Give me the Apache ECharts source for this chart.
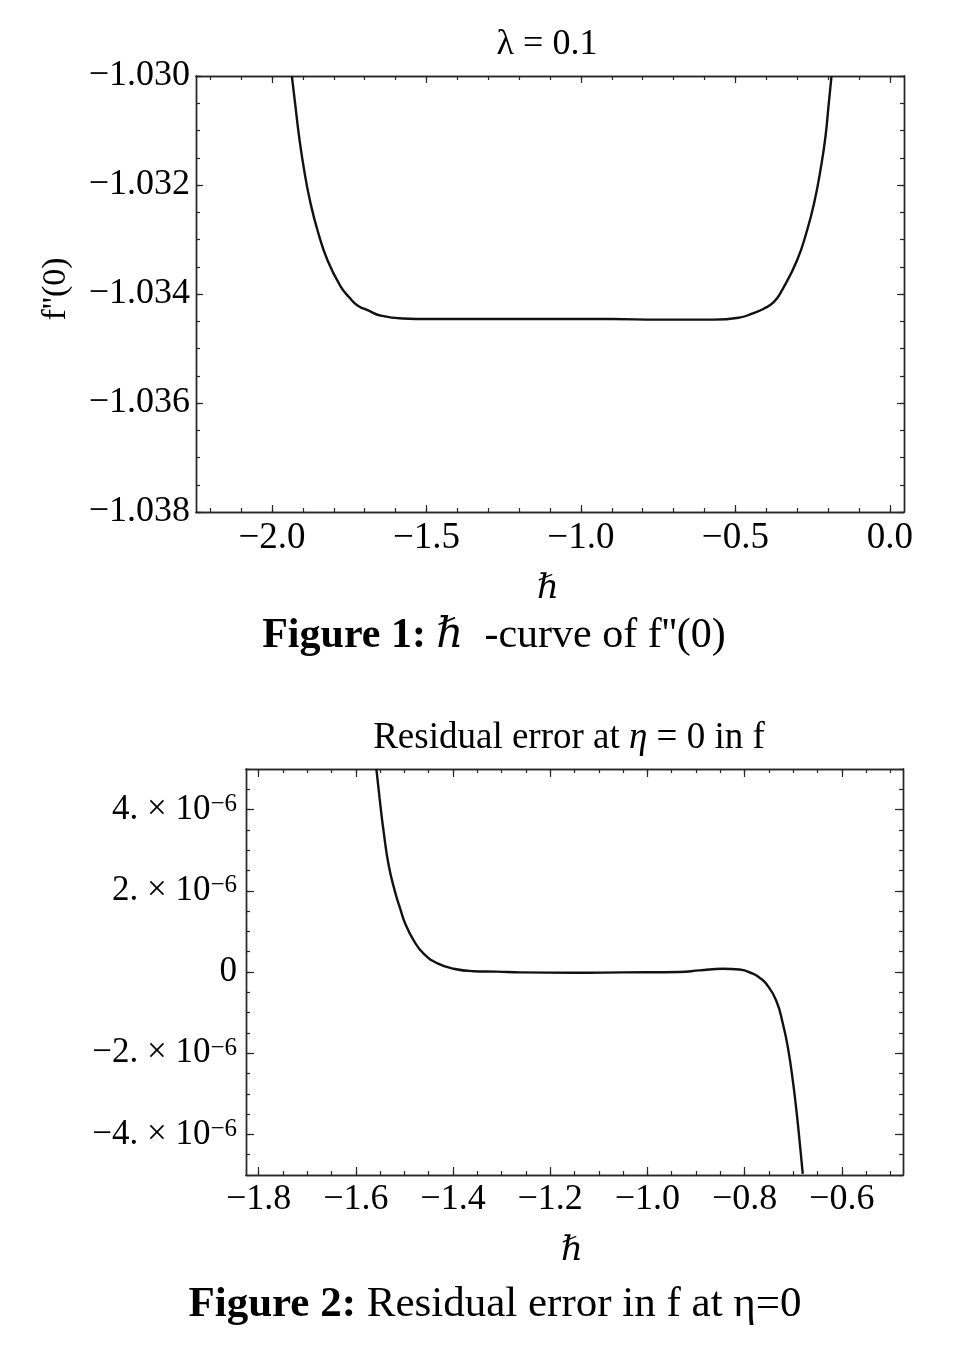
<!DOCTYPE html>
<html>
<head>
  <meta charset="UTF-8">
  <title>ħ-curve and residual error</title>
  <script src="https://cdn.jsdelivr.net/npm/echarts@6.0.0/dist/echarts.min.js"></script>
  <style>
    html, body { margin: 0; padding: 0; background: #fff; }
    #chart { width: 957px; height: 1354px; }
  </style>
</head>
<body>
  <div id="chart"></div>

  <script>
    // Figure 1: f''(0) against hbar, lambda = 0.1
    const hbar1 = [-1.9357, -1.925, -1.912, -1.8958, -1.8773, -1.8527, -1.8203, -1.7769, -1.75,
      -1.7231, -1.685, -1.6528, -1.5773, -1.49, -1.3, -1.1, -0.9, -0.75, -0.6782, -0.5703,
      -0.4838, -0.4459, -0.4083, -0.3759, -0.3487, -0.3001, -0.2677, -0.243, -0.2246, -0.2084, -0.1977, -0.1889];
    const fpp0 = [-1.0300, -1.03051, -1.03112, -1.03173, -1.03228, -1.03283, -1.03338, -1.03387, -1.03406,
      -1.03421, -1.03431, -1.03439, -1.03445, -1.03446, -1.03446, -1.03446, -1.03446, -1.03447, -1.03447, -1.03447,
      -1.03443, -1.03436, -1.03427, -1.03415, -1.03393, -1.03338, -1.03283, -1.03228, -1.03173, -1.03112, -1.03051, -1.03001];

    // Figure 2: residual error at eta = 0 in f
    const hbar2 = [-1.5577, -1.551, -1.5427, -1.5324, -1.5187, -1.5084, -1.4982, -1.481, -1.4605,
      -1.433, -1.399, -1.358, -1.31, -1.262, -1.15, -1.05, -0.9335, -0.8924, -0.8446, -0.8103, -0.783,
      -0.7692, -0.7554, -0.735, -0.7213, -0.711, -0.7008, -0.6926, -0.6856, -0.6803];
    const resid = [5.0e-6, 4.27e-6, 3.45e-6, 2.63e-6, 1.95e-6, 1.55e-6, 1.19e-6, 0.78e-6, 0.45e-6,
      0.22e-6, 0.08e-6, 0.02e-6, 0.01e-6, -0.01e-6, -0.02e-6, -0.01e-6, 0.0, 0.04e-6, 0.08e-6, 0.06e-6, -0.04e-6,
      -0.14e-6, -0.29e-6, -0.70e-6, -1.27e-6, -1.85e-6, -2.67e-6, -3.49e-6, -4.31e-6, -4.97e-6];

    // ticks and labels
    const xTicks1 = [-2.0, -1.5, -1.0, -0.5, 0.0];
    const xLabels1 = ['\u22122.0', '\u22121.5', '\u22121.0', '\u22120.5', '0.0'];
    const yTicks1 = [-1.038, -1.036, -1.034, -1.032, -1.030];
    const yLabels1 = ['\u22121.038', '\u22121.036', '\u22121.034', '\u22121.032', '\u22121.030'];
    const xTicks2 = [-1.8, -1.6, -1.4, -1.2, -1.0, -0.8, -0.6];
    const xLabels2 = ['\u22121.8', '\u22121.6', '\u22121.4', '\u22121.2', '\u22121.0', '\u22120.8', '\u22120.6'];
    const yTicks2 = [-4e-6, -2e-6, 0, 2e-6, 4e-6];
    const yLabels2 = ['\u22124. \u00d7 10{s|\u22126}', '\u22122. \u00d7 10{s|\u22126}', '0',
      '2. \u00d7 10{s|\u22126}', '4. \u00d7 10{s|\u22126}'];

    const SERIF = '"Liberation Serif", "DejaVu Serif", serif';
    const INK = '#000';
    const FRAME = '#262626';

    function steps(from, to, step) {
      const out = [];
      const n = Math.round((to - from) / step);
      for (let i = 0; i <= n; i++) out.push(+(from + i * step).toPrecision(10));
      return out;
    }

    // four axes per dimension: labelled major, minor, and the mirrored pair on the far side
    function frameAxes(dim, gi, range, majors, labels, minors, cfg) {
      const sides = dim === 'x' ? ['bottom', 'top'] : ['left', 'right'];
      const span = range[1] - range[0];
      const axes = [];
      sides.forEach(function (side, s) {
        [majors, minors].forEach(function (ticks, k) {
          const labelled = s === 0 && k === 0;
          axes.push({
            type: 'value',
            gridIndex: gi,
            position: side,
            min: range[0],
            max: range[1],
            axisLine: { show: true, onZero: false, lineStyle: { color: FRAME, width: 1.4 } },
            axisTick: {
              show: true, inside: true,
              length: k === 0 ? cfg.majorLen : cfg.minorLen,
              customValues: ticks,
              lineStyle: { color: FRAME, width: 1.2 }
            },
            axisLabel: labelled ? {
              show: true,
              customValues: majors,
              margin: cfg.margin,
              color: INK,
              fontFamily: SERIF,
              fontSize: cfg.fontSize,
              formatter: function (v) {
                for (let i = 0; i < majors.length; i++) {
                  if (Math.abs(majors[i] - v) < span * 1e-6) return labels[i];
                }
                return '';
              },
              rich: cfg.rich
            } : { show: false },
            splitLine: { show: false },
            minorTick: { show: false }
          });
        });
      });
      return axes;
    }

    const supRich = {
      s: { fontFamily: SERIF, fontSize: 25, lineHeight: 25, verticalAlign: 'top', color: INK }
    };

    const xAxes = [].concat(
      frameAxes('x', 0, [-2.246, 0.046], xTicks1, xLabels1, steps(-2.2, 0.0, 0.1),
        { majorLen: 7, minorLen: 4, margin: 8, fontSize: 37 }),
      frameAxes('x', 1, [-1.826, -0.474], xTicks2, xLabels2, steps(-1.8, -0.5, 0.05),
        { majorLen: 8, minorLen: 4, margin: 7, fontSize: 36 })
    );
    const yAxes = [].concat(
      frameAxes('y', 0, [-1.038, -1.030], yTicks1, yLabels1, steps(-1.038, -1.030, 0.0005),
        { majorLen: 7, minorLen: 4, margin: 6, fontSize: 36 }),
      frameAxes('y', 1, [-5e-6, 5e-6], yTicks2, yLabels2, steps(-5e-6, 5e-6, 0.5e-6),
        { majorLen: 8, minorLen: 4, margin: 9, fontSize: 35, rich: supRich })
    );

    function textEl(x, y, text, size, extra) {
      return Object.assign({
        type: 'text', x: x, y: y, silent: true,
        style: {
          text: text, fill: INK, fontFamily: SERIF, fontSize: size,
          align: 'center', verticalAlign: 'middle',
          rich: {
            b: { fontFamily: SERIF, fontSize: size, fontWeight: 'bold', fill: INK },
            i: { fontFamily: SERIF, fontSize: size, fontStyle: 'italic', fill: INK }
          }
        }
      }, extra || {});
    }

    const chart = echarts.init(document.getElementById('chart'));

    chart.setOption({
      animation: false,
      backgroundColor: '#fff',
      grid: [
        { left: 196, top: 76, width: 708, height: 436 },
        { left: 246, top: 769, width: 657, height: 406 }
      ],
      xAxis: xAxes,
      yAxis: yAxes,
      series: [
        {
          type: 'line',
          xAxisIndex: 0,
          yAxisIndex: 0,
          data: hbar1.map(function (h, i) { return [h, fpp0[i]]; }),
          showSymbol: false,
          smooth: 0.5,
          lineStyle: { color: '#111', width: 2.4 }
        },
        {
          type: 'line',
          xAxisIndex: 4,
          yAxisIndex: 4,
          data: hbar2.map(function (h, i) { return [h, resid[i]]; }),
          showSymbol: false,
          smooth: 0.5,
          lineStyle: { color: '#111', width: 2.4 }
        }
      ],
      graphic: [
        textEl(547, 45, '\u03bb = 0.1', 36),
        textEl(56, 289, "f''(0)", 34, { rotation: Math.PI / 2 }),
        textEl(548, 589, '{i|\u210f}', 34),
        textEl(494, 636, '{b|Figure 1:} {i|\u210f}  -curve of f\'\'(0)', 42),
        textEl(569, 738, 'Residual error at {i|\u03b7} = 0 in f', 37),
        textEl(572, 1251, '{i|\u210f}', 34),
        textEl(495, 1305, '{b|Figure 2:} Residual error in f at \u03b7=0', 43)
      ]
    });
  </script>
</body>
</html>
